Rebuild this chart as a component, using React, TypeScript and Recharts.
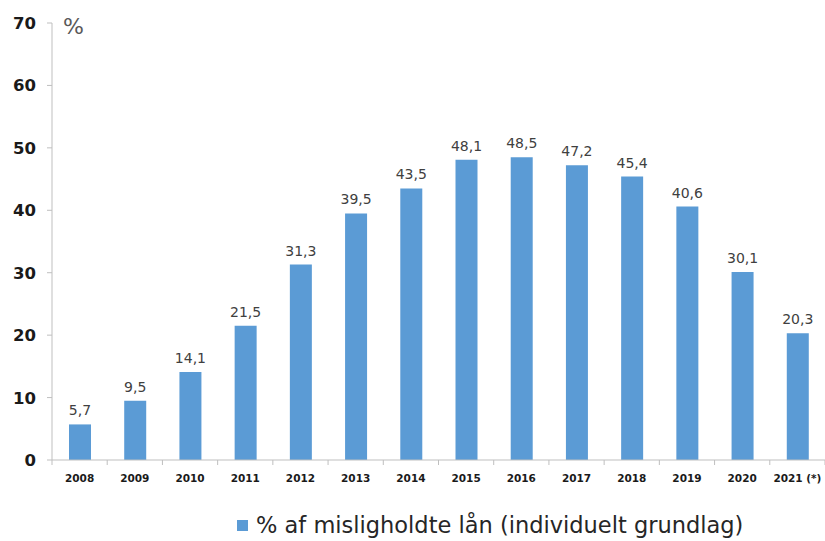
import React from 'react'
import { BarChart, Bar, XAxis, YAxis, Legend, LabelList } from 'recharts'

const years = ['2008', '2009', '2010', '2011', '2012', '2013', '2014', '2015', '2016', '2017', '2018', '2019', '2020', '2021 (*)']
const shares = [5.7, 9.5, 14.1, 21.5, 31.3, 39.5, 43.5, 48.1, 48.5, 47.2, 45.4, 40.6, 30.1, 20.3]
const yTicks = [0, 10, 20, 30, 40, 50, 60, 70]
const seriesName = '% af misligholdte lån (individuelt grundlag)'

const BLUE = '#5b9bd5'
const AXIS = '#bfbfbf'
const FONT = '"DejaVu Sans", sans-serif'

const data = years.map((year, i) => ({ year, value: shares[i] }))

const WIDTH = 825
const HEIGHT = 541
const LEFT = 52
const BAND = (WIDTH - LEFT) / years.length

const XTick = (props: any) => {
  const { x, y, payload, index } = props
  const left = x - BAND / 2
  return (
    <g>
      <line x1={left} x2={left} y1={y - 8} y2={y - 3} stroke={AXIS} />
      {index === years.length - 1 && (
        <line x1={left + BAND} x2={left + BAND} y1={y - 8} y2={y - 3} stroke={AXIS} />
      )}
      <text x={x} y={y + 14} textAnchor="middle" fontSize={10.5} fontWeight="bold" fill="#1a1a1a" fontFamily={FONT}>
        {payload.value}
      </text>
    </g>
  )
}

const YTick = (props: any) => {
  const { x, y, payload } = props
  return (
    <text x={x - 9} y={y} dy={6} textAnchor="end" fontSize={16.5} fontWeight="bold" fill="#1a1a1a" fontFamily={FONT}>
      {payload.value}
    </text>
  )
}

const LegendContent = () => (
  <div style={{ display: 'flex', alignItems: 'center', marginLeft: 237, marginTop: 22, fontFamily: FONT, fontSize: 22.5, color: '#262626' }}>
    <span style={{ width: 11, height: 11, background: BLUE, display: 'inline-block', marginRight: 8 }} />
    <span>{seriesName}</span>
  </div>
)

export default function App() {
  return (
    <div style={{ position: 'absolute', left: 0, top: 0, width: WIDTH, height: HEIGHT, background: '#fff' }}>
      <BarChart width={WIDTH} height={HEIGHT} data={data} margin={{ top: 23, right: 0, left: 0, bottom: 0 }}>
        <XAxis
          dataKey="year"
          height={30}
          axisLine={{ stroke: AXIS }}
          tickLine={false}
          tick={<XTick />}
          interval={0}
        />
        <YAxis
          width={LEFT}
          domain={[0, 70]}
          ticks={yTicks}
          axisLine={{ stroke: AXIS }}
          tickLine={{ stroke: AXIS }}
          tickSize={5}
          tick={<YTick />}
        />
        <Legend verticalAlign="bottom" height={51} content={<LegendContent />} />
        <Bar dataKey="value" name={seriesName} fill={BLUE} barSize={22} isAnimationActive={false}>
          <LabelList
            dataKey="value"
            position="top"
            offset={9}
            formatter={(v: any) => String(v).replace('.', ',')}
            style={{ fontSize: 14, fill: '#404040', fontFamily: FONT }}
          />
        </Bar>
      </BarChart>
      <div style={{ position: 'absolute', left: 63, top: 14, fontSize: 22, color: '#595959', fontFamily: FONT }}>%</div>
    </div>
  )
}
